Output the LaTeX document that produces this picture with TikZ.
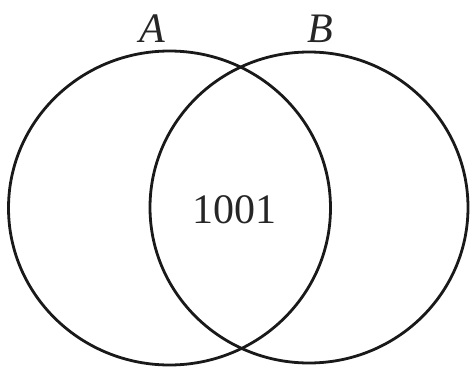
\documentclass[tikz,border=0pt]{standalone}
\usepackage{fontspec}
\setmainfont{Liberation Serif}
\begin{document}
\begin{tikzpicture}[x=1pt,y=-1pt,
  setring/.style={draw=black!90,line width=2.8pt},
  lbl/.style={inner sep=0pt,text=black!85,font=\fontsize{42}{42}\selectfont}]
\useasboundingbox (0,0) rectangle (471,369);
\draw[setring] (169.5,208) ellipse [x radius=161,y radius=157];
\draw[setring] (309,207.5) ellipse [x radius=159,y radius=155.5];
\node[lbl] (a) at (152,29) {\textit{A}};
\node[lbl] (b) at (320,29) {\textit{B}};
\node[lbl] (n) at (234.5,210) {1001};
\end{tikzpicture}
\end{document}
